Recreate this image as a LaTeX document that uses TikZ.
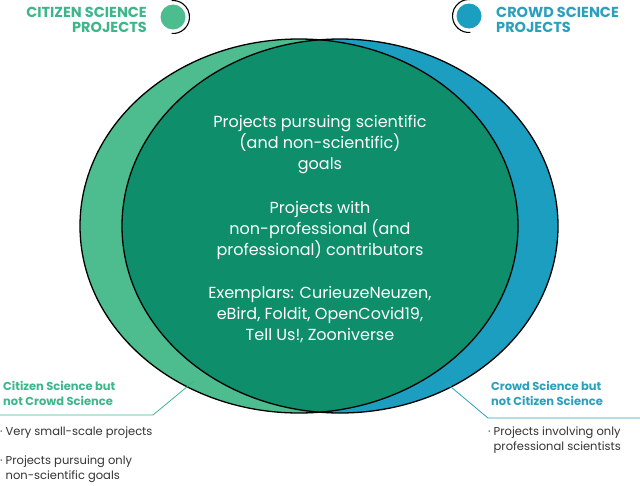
\documentclass[tikz,border=0pt]{standalone}
\usepackage{fontspec}
\setmainfont{Poppins}
\definecolor{cslight}{HTML}{4DBD8F}
\definecolor{csdark}{HTML}{0E8E6B}
\definecolor{crblue}{HTML}{1C9EC0}
\definecolor{cstext}{HTML}{3DB68A}
\definecolor{crtext}{HTML}{2AA0BC}
\definecolor{graytext}{HTML}{333333}
\tikzset{
  outline/.style={draw=black, line width=1.3pt},
  title/.style={font=\fontsize{14.5}{14.5}\selectfont\bfseries, inner sep=0pt},
  inner/.style={text=white, align=center, font=\fontsize{16}{21}\selectfont, inner sep=0pt},
  sublabel/.style={font=\fontsize{11.5}{15}\selectfont\bfseries, align=left, inner sep=0pt, anchor=north west},
  bullet/.style={font=\fontsize{11.5}{14.5}\selectfont, text=graytext, align=left, inner sep=0pt, anchor=north west},
  leader/.style={line width=0.8pt}
}
\begin{document}
\begin{tikzpicture}[x=1pt,y=-1pt]
\useasboundingbox (0,0) rectangle (640,485);
% ellipses
\fill[cslight] (299,226) ellipse [x radius=219, y radius=187];
\fill[crblue] (340,226) ellipse [x radius=218, y radius=187];
\begin{scope}
  \clip (299,226) ellipse [x radius=219, y radius=187];
  \fill[csdark] (340,226) ellipse [x radius=218, y radius=187];
\end{scope}
\draw[outline] (299,226) ellipse [x radius=219, y radius=187];
\draw[outline] (340,226) ellipse [x radius=218, y radius=187];

% legend icons
\fill[cslight] (173,17) circle (12.5);
\draw[line width=1.1pt] (173,17) ++(95:16.5) arc[start angle=95, end angle=-95, radius=16.5];
\fill[crblue] (469,16) circle (12.5);
\draw[line width=1.1pt] (469,16) ++(85:16.5) arc[start angle=85, end angle=275, radius=16.5];

\node[title, text=cstext, align=right, anchor=north east] (cstitle) at (147,7) {CITIZEN SCIENCE\\PROJECTS};
\node[title, text=crtext, align=left, anchor=north west] (crtitle) at (496,7) {CROWD SCIENCE\\PROJECTS};

% inner texts
\node[inner] (p1) at (320,145) {Projects pursuing scientific\\(and non-scientific)\\goals};
\node[inner] (p2) at (320,230) {Projects with\\non-professional (and\\professional) contributors};
\node[inner] (p3) at (320,315) {Exemplars: CurieuzeNeuzen,\\eBird, Foldit, OpenCovid19,\\Tell Us!, Zooniverse};

% bottom-left
\coordinate (lA) at (0,415);
\coordinate (lB) at (153,415);
\coordinate (lC) at (194,381);
\draw[leader, draw=cstext] (lA) -- (lB) -- (lC);
\node[sublabel, text=cstext] (csl) at (3,381) {Citizen Science but\\not Crowd Science};
\node[bullet] (csb1) at (0,427) {· Very small-scale projects};
\node[bullet] (csb2) at (0,456) {· Projects pursuing only\\\phantom{· }non-scientific goals};

% bottom-right
\coordinate (rA) at (445,382);
\coordinate (rB) at (488,418);
\coordinate (rC) at (640,418);
\draw[leader, draw=crtext] (rA) -- (rB) -- (rC);
\node[sublabel, text=crtext] (crl) at (491,381) {Crowd Science but\\not Citizen Science};
\node[bullet] (crb1) at (488,427) {· Projects involving only\\\phantom{· }professional scientists};
\end{tikzpicture}
\end{document}
